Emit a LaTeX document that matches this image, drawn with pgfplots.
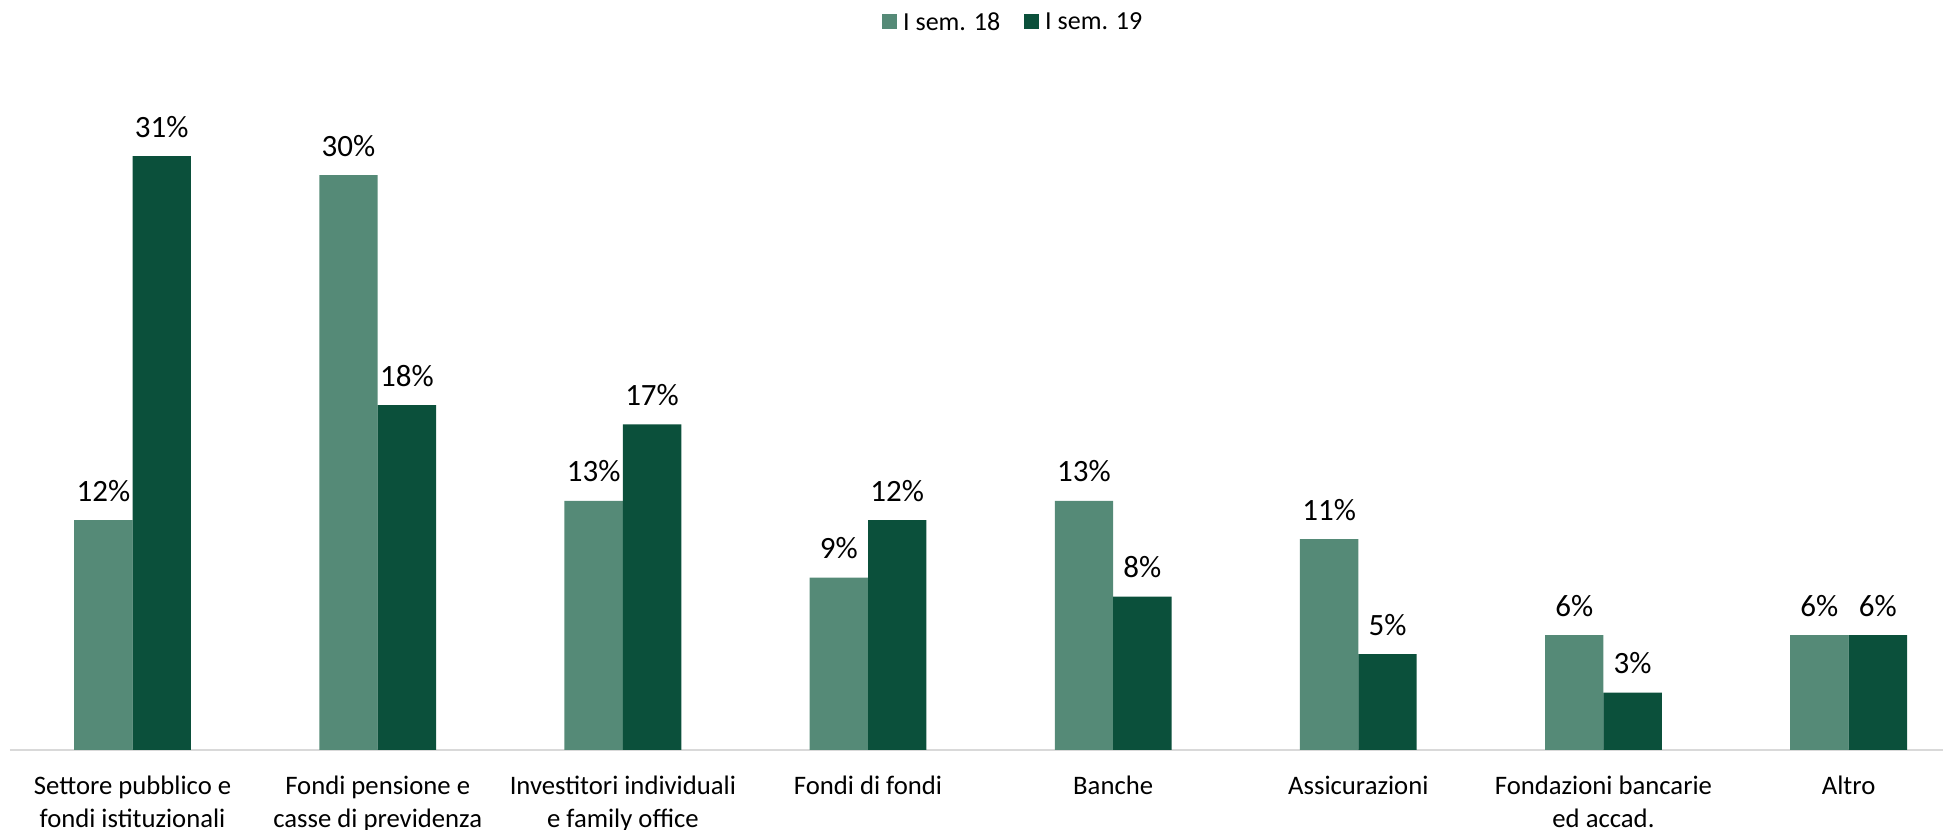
\documentclass[border=0pt]{standalone}
\usepackage{pgfplots}
\pgfplotsset{compat=1.18}
\usepackage{fontspec}
\setmainfont{Carlito}
\definecolor{light}{HTML}{558A77}
\definecolor{dark}{HTML}{0B503B}
\begin{document}
\begin{tikzpicture}
\useasboundingbox (0pt,0pt) rectangle (1947pt,830pt);
\begin{axis}[
  at={(10pt,80pt)}, anchor=south west,
  scale only axis, width=1933pt, height=670.6pt,
  ymin=0, ymax=35, xmin=-0.5, xmax=7.385,
  ybar=0pt, bar width=58.4pt,
  axis x line*=bottom, axis y line=none,
  x axis line style={-, draw=black!15, line width=2pt},
  xtick=data, xtick style={draw=none},
  xticklabels={{Settore pubblico e\\fondi istituzionali},{Fondi pensione e\\casse di previdenza},{Investitori individuali\\e family office},{Fondi di fondi},{Banche},{Assicurazioni},{Fondazioni bancarie\\ed accad.},{Altro}},
  xticklabel style={align=center, font=\fontsize{26.7}{33}\selectfont, anchor=north, yshift=-18pt, text depth=0pt},
  point meta=y,
  nodes near coords={\pgfmathprintnumber[fixed,precision=0,assume math mode=true]{\pgfplotspointmeta}\%},
  every node near coord/.append style={font=\fontsize{31}{36}\selectfont, anchor=base, yshift=19pt, inner sep=0pt},
  legend style={at={(0.519,1.0856)}, anchor=center, draw=none, fill=none, font=\fontsize{26}{30}\selectfont, legend columns=2,
    /tikz/every odd column/.append style={column sep=4pt},
    /tikz/every even column/.append style={column sep=22pt}},
  legend image code/.code={\fill[#1] (0pt,-7.5pt) rectangle (15pt,7.5pt);},
  legend cell align=left,
]
\addplot[fill=light, draw=none] coordinates {(0,12) (1,30) (2,13) (3,9) (4,13) (5,11) (6,6) (7,6)};
\addplot[fill=dark, draw=none] coordinates {(0,31) (1,18) (2,17) (3,12) (4,8) (5,5) (6,3) (7,6)};
\legend{I sem. 18, I sem. 19}
\end{axis}
\end{tikzpicture}
\end{document}
